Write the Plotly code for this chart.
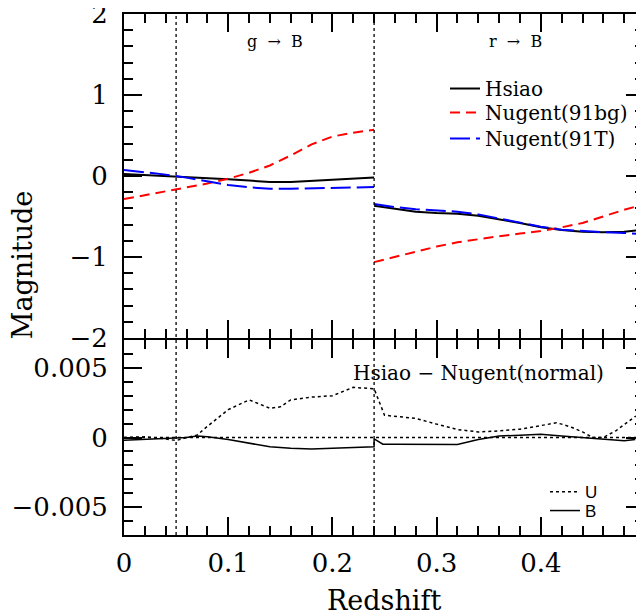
import plotly.graph_objects as go
from plotly.subplots import make_subplots

# ---------------- data ----------------
z_seg1 = [0.00, 0.02, 0.04, 0.06, 0.08, 0.10, 0.12, 0.14, 0.16, 0.18, 0.20, 0.22, 0.24]
z_seg2 = [0.24, 0.26, 0.28, 0.30, 0.32, 0.34, 0.36, 0.38, 0.40, 0.42, 0.44, 0.46, 0.48, 0.499]

hsiao_g = [0.025, 0.012, 0.004, -0.008, -0.020, -0.041, -0.057, -0.074, -0.074, -0.061, -0.045, -0.033, -0.020]
hsiao_r = [-0.368, -0.409, -0.441, -0.458, -0.466, -0.491, -0.531, -0.580, -0.634, -0.666, -0.687, -0.695, -0.687, -0.665]

n91bg_g = [-0.285, -0.236, -0.187, -0.137, -0.093, -0.033, 0.040, 0.130, 0.254, 0.390, 0.487, 0.535, 0.570]
n91bg_r = [-1.063, -1.001, -0.932, -0.871, -0.818, -0.777, -0.744, -0.711, -0.679, -0.634, -0.580, -0.499, -0.417, -0.350]

n91t_g = [0.074, 0.050, 0.017, -0.020, -0.065, -0.110, -0.140, -0.156, -0.156, -0.152, -0.144, -0.140, -0.137]
n91t_r = [-0.347, -0.384, -0.409, -0.429, -0.441, -0.474, -0.523, -0.577, -0.626, -0.663, -0.683, -0.695, -0.703, -0.718]

z_U = [0.00, 0.02, 0.04, 0.05, 0.06, 0.07, 0.08, 0.10, 0.12, 0.13, 0.14, 0.15, 0.16, 0.18,
       0.20, 0.22, 0.24, 0.25, 0.26, 0.28, 0.30, 0.32, 0.34, 0.36, 0.38, 0.40, 0.415, 0.42,
       0.43, 0.44, 0.45, 0.46, 0.4723, 0.49, 0.499]
diff_U = [0.0, 0.00005, -0.0001, -0.00022, 0.0, 0.00017, 0.0008, 0.0020, 0.0027, 0.0024, 0.0021,
          0.0022, 0.0027, 0.0029, 0.0030, 0.0036, 0.0035, 0.0016, 0.00153, 0.00137, 0.00096,
          0.00057, 0.0004, 0.00047, 0.0006, 0.00088, 0.00105, 0.00096, 0.00072, 0.0004, 0.0,
          0.0, 0.0005, 0.00148, 0.0018]

z_B = [0.00, 0.02, 0.04, 0.05, 0.06, 0.07, 0.08, 0.10, 0.12, 0.14, 0.16, 0.18, 0.20, 0.22, 0.24,
       0.24, 0.2484, 0.26, 0.28, 0.30, 0.32, 0.34, 0.36, 0.38, 0.40, 0.42, 0.44, 0.46, 0.48, 0.4906]
diff_B = [-0.0002, -0.00015, -0.0001, -0.00005, 0.0, 0.0001, 0.00005, -0.00014, -0.00043, -0.00067,
          -0.00077, -0.00082, -0.00077, -0.0007, -0.00067, -0.0001, -0.00048, -0.00048, -0.0005,
          -0.00053, -0.0005, -0.00015, 0.0001, 0.00017, 0.00024, 0.0001, -0.00003, -0.00015,
          -0.00024, -0.00015]

filter_edges = [0.05, 0.24]
x_ticks = [0, 0.1, 0.2, 0.3, 0.4]
x_ticklabels = ["0", "0.1", "0.2", "0.3", "0.4"]
top_ticks = [-2, -1, 0, 1, 2]
bot_ticks = [-0.005, 0, 0.005]
bot_ticklabels = ["\u22120.005", "0", "0.005"]

SERIF = "DejaVu Serif"
SANS = "Liberation Sans"
NB = "\u00a0"

def joined(a, b):
    return a + [None] + b

fig = make_subplots(rows=2, cols=1, shared_xaxes=True, vertical_spacing=0,
                    row_heights=[326, 195])

fig.add_trace(go.Scatter(x=joined(z_seg1, z_seg2), y=joined(hsiao_g, hsiao_r), mode="lines",
                         name="Hsiao", line=dict(color="black", width=2),
                         legend="legend", connectgaps=False), row=1, col=1)
fig.add_trace(go.Scatter(x=joined(z_seg1, z_seg2), y=joined(n91bg_g, n91bg_r), mode="lines",
                         name="Nugent(91bg)", line=dict(color="#ff0000", width=2, dash="10px,6px"),
                         legend="legend3", connectgaps=False), row=1, col=1)
fig.add_trace(go.Scatter(x=joined(z_seg1, z_seg2), y=joined(n91t_g, n91t_r), mode="lines",
                         name="Nugent(91T)", line=dict(color="#0000ff", width=2, dash="20px,6px"),
                         legend="legend4", connectgaps=False), row=1, col=1)

fig.add_trace(go.Scatter(x=z_U, y=diff_U, mode="lines", name="U",
                         line=dict(color="black", width=1.5, dash="dot"),
                         legend="legend2"), row=2, col=1)
fig.add_trace(go.Scatter(x=z_B, y=diff_B, mode="lines", name="B",
                         line=dict(color="black", width=1.5),
                         legend="legend5"), row=2, col=1)

axis_common = dict(showline=True, linecolor="black", linewidth=2, mirror="ticks",
                   ticks="inside", ticklen=18, tickwidth=1.5, tickcolor="black",
                   showgrid=False, zeroline=False, automargin=False,
                   ticklabeloverflow="allow",
                   tickfont=dict(family=SERIF, size=26, color="black"))

fig.update_xaxes(**axis_common, range=[0, 0.499], tickvals=x_ticks, ticktext=x_ticklabels,
                 minor=dict(ticks="inside", ticklen=9, dtick=0.02, tick0=0, tickwidth=1.5,
                            tickcolor="black", showgrid=False))
fig.update_xaxes(showticklabels=False, row=1, col=1)
fig.update_xaxes(ticklabelstandoff=4, row=2, col=1)

# plot area is 521 px tall; lower panel 195 px, upper panel raised by the line width
fig.update_yaxes(**axis_common, row=1, col=1, range=[-2, 2], tickvals=top_ticks,
                 domain=[(195 + 2) / 521, 1.0],
                 minor=dict(ticks="inside", ticklen=9, dtick=0.2, tick0=0, tickwidth=1.5,
                            tickcolor="black", showgrid=False),
                 ticklabelstandoff=9)
fig.update_yaxes(**axis_common, row=2, col=1, range=[-0.007, 0.007], tickvals=bot_ticks,
                 ticktext=bot_ticklabels, domain=[0.0, 195 / 521],
                 minor=dict(ticks="inside", ticklen=9, dtick=0.001, tick0=0, tickwidth=1.5,
                            tickcolor="black", showgrid=False),
                 ticklabelstandoff=9)

# vertical dotted filter boundaries spanning both panels
for xe in filter_edges:
    fig.add_shape(type="line", xref="x2", yref="paper", x0=xe, x1=xe, y0=0, y1=1,
                  line=dict(color="black", width=1.3, dash="dot"), layer="above")
# zero line in lower panel
fig.add_shape(type="line", xref="x2 domain", yref="y2", x0=0, x1=1, y0=0, y1=0,
              line=dict(color="black", width=1.3, dash="dot"))

def note(text, x, y, size, angle=0):
    fig.add_annotation(text=text, x=x, y=y, xref="paper", yref="paper", textangle=angle,
                       xanchor="center", yanchor="middle", showarrow=False,
                       font=dict(family=SERIF, size=size, color="black"))

note("g" + NB * 2 + "\u2192" + NB * 2 + "B", 0.291, 0.9463, 16)
note("r" + NB * 2 + "\u2192" + NB * 2 + "B", 0.752, 0.9463, 16)
note("Hsiao \u2212 Nugent(normal)", 0.682, 0.311, 20)
note("Magnitude", -0.196, 0.518, 27, angle=-90)
note("Redshift", 0.4995, -0.125, 27)

leg_common = dict(xanchor="left", yanchor="top", bgcolor="rgba(0,0,0,0)", tracegroupgap=0)
top_font = dict(family=SERIF, size=20, color="black")
bot_font = dict(family=SANS, size=17, color="black")

# the page body has an 8 px margin, so the figure is sized to fit the window after it
fig.update_layout(
    width=636, height=608,
    margin=dict(l=116, r=0, t=6, b=81, autoexpand=False),
    showlegend=True,
    paper_bgcolor="white", plot_bgcolor="white",
    font=dict(family=SERIF, color="black"),
    legend=dict(x=0.6173, y=0.8944, font=top_font, **leg_common),
    legend3=dict(x=0.6173, y=0.8484, font=top_font, **leg_common),
    legend4=dict(x=0.6173, y=0.7985, font=top_font, **leg_common),
    legend2=dict(x=0.8096, y=0.1167, font=bot_font, **leg_common),
    legend5=dict(x=0.8096, y=0.0806, font=bot_font, **leg_common),
)

fig.write_html("out.html")
